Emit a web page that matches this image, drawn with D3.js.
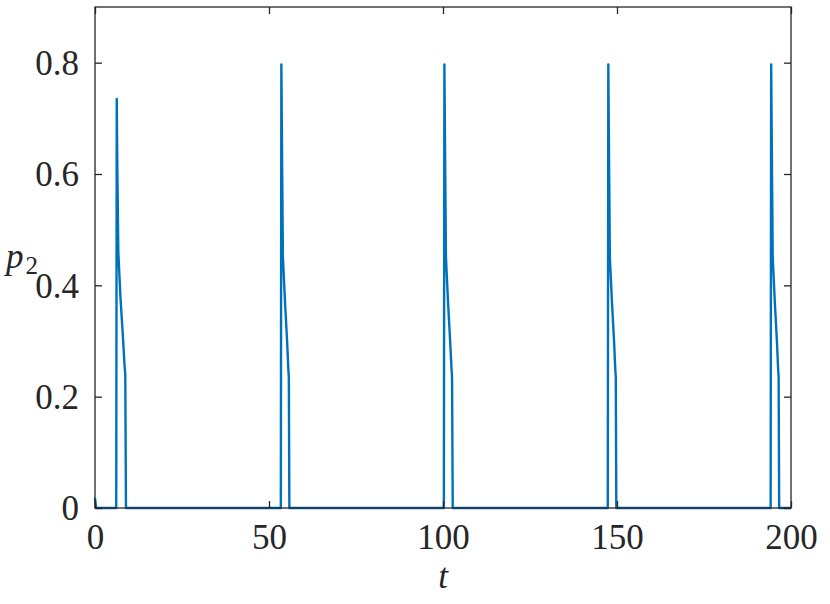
<!DOCTYPE html>
<html>
<head>
<meta charset="utf-8">
<script src="https://cdn.jsdelivr.net/npm/d3@7"></script>
<style>
  body { margin: 0; background: #fff; }
  text { font-family: "Liberation Serif", "DejaVu Serif", serif; fill: #262626; }
</style>
</head>
<body>
<div id="chart"></div>
<script>
// time samples and p2 values
var timeValues = [
  0, 0.3,
  6.1, 6.25, 6.4, 6.7, 7.3, 8.0, 8.5, 8.7, 8.9,
  53.4, 53.55, 53.8, 54.0, 54.6, 55.2, 55.55, 55.7, 55.85,
  100.25, 100.4, 100.65, 100.85, 101.45, 102.05, 102.45, 102.6, 102.8,
  147.35, 147.5, 147.75, 147.95, 148.55, 149.15, 149.5, 149.65, 149.8,
  194.15, 194.3, 194.55, 194.75, 195.35, 195.95, 196.3, 196.45, 196.6,
  200
];
var p2Values = [
  0.018, 0,
  0, 0.735, 0.62, 0.46, 0.38, 0.31, 0.255, 0.24, 0,
  0, 0.797, 0.6, 0.45, 0.37, 0.3, 0.25, 0.235, 0,
  0, 0.797, 0.6, 0.45, 0.37, 0.3, 0.25, 0.235, 0,
  0, 0.797, 0.6, 0.45, 0.37, 0.3, 0.25, 0.235, 0,
  0, 0.797, 0.6, 0.45, 0.37, 0.3, 0.25, 0.235, 0,
  0
];
var xTicks = [0, 50, 100, 150, 200];
var yTicks = [0, 0.2, 0.4, 0.6, 0.8];
var yTickLabels = ["0", "0.2", "0.4", "0.6", "0.8"];

var width = 830, height = 604;
var margin = {top: 7, right: 39, bottom: 96, left: 95};
var plotW = width - margin.left - margin.right;
var plotH = height - margin.top - margin.bottom;

var svg = d3.select("#chart").append("svg")
  .attr("width", width)
  .attr("height", height);

var g = svg.append("g")
  .attr("transform", "translate(" + margin.left + "," + margin.top + ")");

var x = d3.scaleLinear().domain([0, 200]).range([0, plotW]);
var y = d3.scaleLinear().domain([0, 0.9]).range([plotH, 0]);

var data = timeValues.map(function(t, i) { return {t: t, p: p2Values[i]}; });

var line = d3.line()
  .x(function(d) { return x(d.t); })
  .y(function(d) { return y(d.p); });

g.append("path")
  .datum(data)
  .attr("fill", "none")
  .attr("stroke", "#0072BD")
  .attr("stroke-width", 2.4)
  .attr("stroke-linejoin", "round")
  .attr("d", line);

// box
g.append("rect")
  .attr("width", plotW)
  .attr("height", plotH)
  .attr("fill", "none")
  .attr("stroke", "#262626")
  .attr("stroke-width", 1.3);

var tickLen = 7;

// bottom axis with labels
var xAxis = g.append("g")
  .attr("transform", "translate(0," + plotH + ")")
  .call(d3.axisBottom(x).tickValues(xTicks).tickSizeInner(-tickLen).tickSizeOuter(0).tickPadding(16)
    .tickFormat(d3.format("d")));
// top ticks
var xAxisTop = g.append("g")
  .call(d3.axisTop(x).tickValues(xTicks).tickSizeInner(-tickLen).tickSizeOuter(0).tickFormat(""));

var yAxis = g.append("g")
  .call(d3.axisLeft(y).tickValues(yTicks).tickSizeInner(-tickLen).tickSizeOuter(0).tickPadding(16)
    .tickFormat(function(d, i) { return yTickLabels[i]; }));
var yAxisRight = g.append("g")
  .attr("transform", "translate(" + plotW + ",0)")
  .call(d3.axisRight(y).tickValues(yTicks).tickSizeInner(-tickLen).tickSizeOuter(0).tickFormat(""));

[xAxis, xAxisTop, yAxis, yAxisRight].forEach(function(a) {
  a.select(".domain").remove();
  a.selectAll(".tick line").attr("stroke", "#262626").attr("stroke-width", 1.3);
  a.selectAll(".tick text")
    .style("font-family", "'Liberation Serif', 'DejaVu Serif', serif")
    .style("font-size", "35px")
    .attr("fill", "#262626");
});
xAxis.selectAll(".tick text").attr("dy", "0.71em");
yAxis.selectAll(".tick text").attr("dy", "0.34em");

// axis titles
svg.append("text")
  .attr("x", margin.left + x(100))
  .attr("y", 588)
  .attr("text-anchor", "middle")
  .style("font-size", "35px")
  .style("font-style", "italic")
  .text("t");

var yl = svg.append("text")
  .attr("x", 6)
  .attr("y", 268)
  .style("font-size", "35px");
yl.append("tspan").style("font-style", "italic").text("p");
yl.append("tspan").attr("dy", 6).attr("dx", 2).style("font-size", "25px").text("2");
</script>
</body>
</html>
